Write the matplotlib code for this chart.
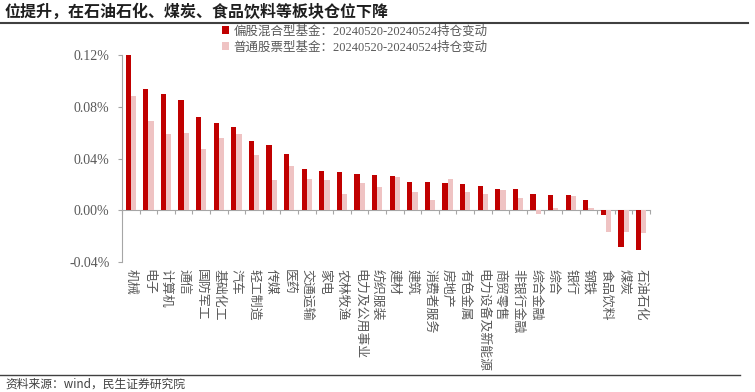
import matplotlib
matplotlib.use('Agg')
import matplotlib.pyplot as plt
import numpy as np
from matplotlib.lines import Line2D
from matplotlib.ticker import FuncFormatter

categories = ['机械', '电子', '计算机', '通信', '国防军工', '基础化工', '汽车', '轻工制造', '传媒', '医药',
              '交通运输', '家电', '农林牧渔', '电力及公用事业', '纺织服装', '建材', '建筑', '消费者服务', '房地产',
              '有色金属', '电力设备及新能源', '商贸零售', '非银行金融', '综合金融', '综合', '银行', '钢铁',
              '食品饮料', '煤炭', '石油石化']
mixed_fund = [0.120, 0.094, 0.0895, 0.0855, 0.0717, 0.0676, 0.0640, 0.0536, 0.0503, 0.0436,
              0.0321, 0.0304, 0.0298, 0.0278, 0.0273, 0.0265, 0.0217, 0.0217, 0.0212,
              0.0204, 0.0189, 0.0166, 0.0161, 0.0128, 0.0120, 0.0120, 0.0082,
              -0.0038, -0.0281, -0.0304]
stock_fund = [0.0885, 0.0691, 0.0592, 0.0597, 0.0472, 0.0559, 0.0587, 0.0426, 0.0235, 0.0344,
              0.0245, 0.0232, 0.0122, 0.0214, 0.0176, 0.0255, 0.0143, 0.0077, 0.0245,
              0.0143, 0.0122, 0.0156, 0.0094, -0.0027, 0.0015, 0.0112, 0.0020,
              -0.0166, -0.0171, -0.0173]
series_labels = ['偏股混合型基金：20240520-20240524持仓变动', '普通股票型基金：20240520-20240524持仓变动']
yticks = [-0.04, 0.0, 0.04, 0.08, 0.12]

W, H = 755, 392
fig = plt.figure(figsize=(W / 100, H / 100), dpi=100)
ax = fig.add_axes([122 / W, 1 - 262 / H, 528 / W, 207 / H])

x = np.arange(len(categories))
w = 0.29
b1 = ax.bar(x - w / 2, mixed_fund, w, color='#C00000', label=series_labels[0], zorder=3)
b2 = ax.bar(x + w / 2, stock_fund, w, color='#EFC3C3', label=series_labels[1], zorder=3)

ymin, ymax = yticks[0], yticks[-1]
ax.set_xlim(-0.5, len(categories) - 0.5)
ax.set_ylim(ymin, ymax)

for s in ['top', 'right', 'bottom']:
    ax.spines[s].set_visible(False)
ax.spines['left'].set_color('#A6A6A6')
ax.spines['left'].set_linewidth(0.8)

ax.set_yticks(yticks)
ax.yaxis.set_major_formatter(FuncFormatter(lambda v, p: f'{v:.2f}%'))
ax.tick_params(axis='y', direction='out', length=3, color='#A6A6A6', pad=6,
               labelsize=10, labelcolor='#595959')
for t in ax.get_yticklabels():
    t.set_family(['Liberation Serif'])

ax.set_xticks(x)
ax.set_xticklabels(categories, rotation=270, ha='center', va='top',
                   family=['Noto Sans CJK SC'], fontsize=9.3, color='#595959')
ax.tick_params(axis='x', length=0, pad=5)

# zero baseline with category separator ticks
loc = (0 - ymin) / (ymax - ymin)
sec = ax.secondary_xaxis(loc)
sec.set_xticks(np.arange(-0.5, len(categories), 1.0))
sec.set_xticklabels([])
sec.tick_params(axis='x', direction='out', length=3, color='#A6A6A6', width=0.8)
sec.spines['bottom'].set_color('#A6A6A6')
sec.spines['bottom'].set_linewidth(0.8)

leg = fig.legend(handles=[b1, b2], loc='upper left', bbox_to_anchor=(222 / W, 1 - 25 / H),
                 frameon=False, borderpad=0, borderaxespad=0, labelspacing=0.3,
                 handlelength=0.6, handleheight=0.6, handletextpad=0.3,
                 prop={'family': ['Liberation Serif', 'Noto Sans CJK SC'], 'size': 9})
for t in leg.get_texts():
    t.set_color('#595959')

fig.text(5 / W, 1 - 12 / H, '位提升，在石油石化、煤炭、食品饮料等板块仓位下降',
         family=['Noto Sans CJK SC'], fontsize=11.5, fontweight='bold', color='#1F1F1F', va='center')
fig.add_artist(Line2D([0, 748 / W], [1 - 22.5 / H] * 2, color='#404040', lw=1.5))
fig.add_artist(Line2D([0, 740 / W], [1 - 375 / H] * 2, color='#404040', lw=1.0))
fig.text(5 / W, 1 - 378 / H, '资料来源：wind，民生证券研究院',
         family=['Noto Sans CJK SC'], fontsize=8.5, color='#404040', va='top')

fig.savefig('out.png', dpi=100)
